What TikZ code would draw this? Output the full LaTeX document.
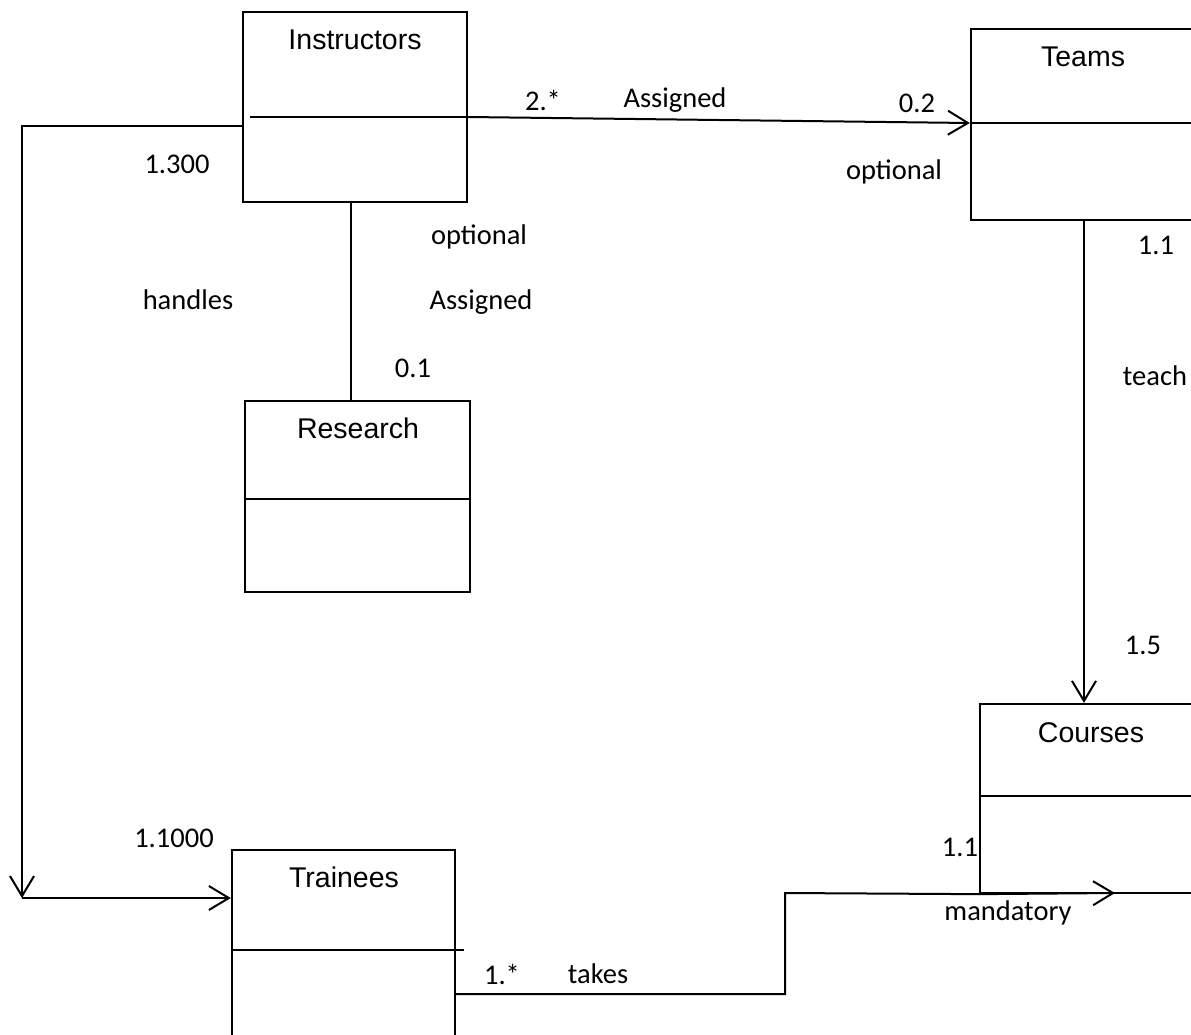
\documentclass[tikz,border=0pt]{standalone}
\usepackage{fontspec}
\setmainfont{Carlito}
\newfontfamily\titlefont{Liberation Sans}
\usetikzlibrary{arrows.meta}
\begin{document}
\begin{tikzpicture}[x=1pt,y=-1pt,
  umlbox/.style={draw, line width=2.3pt, inner sep=0pt, rectangle},
  divider/.style={line width=2pt},
  conn/.style={line width=2pt},
  tip/.style={-{Straight Barb[length=20pt,width=24pt]}},
  title/.style={font=\titlefont\fontsize{28.5}{34}\selectfont, inner sep=0pt},
  lbl/.style={font=\fontsize{28.5}{34}\selectfont, inner sep=0pt}]
\clip (0,0) rectangle (1191,1034);
\fill[white] (0,0) rectangle (1191,1034);

% boxes
\node[umlbox, minimum width=224pt, minimum height=190pt] (ins) at (355,107) {};
\node[title] (insT) at (355,40) {Instructors};
\node[umlbox, minimum width=225pt, minimum height=191pt] (res) at (357.5,496.5) {};
\node[title] (resT) at (358,428) {Research};
\node[umlbox, minimum width=239pt, minimum height=191pt] (tea) at (1090.5,124.5) {};
\node[title] (teaT) at (1083,57) {Teams};
\node[umlbox, minimum width=230pt, minimum height=189pt] (cou) at (1095,798.5) {};
\node[title] (couT) at (1091,733) {Courses};
\node[umlbox, minimum width=223pt, minimum height=200pt] (tra) at (343.5,950) {};
\node[title] (traT) at (344,877) {Trainees};

% helper coordinates
\coordinate (iy) at (250,117);
\coordinate (ty) at (0,123);
\coordinate (ry) at (0,499);
\coordinate (cy) at (0,796);
\coordinate (tdy) at (464,950);
\coordinate (hA) at (22,126);
\coordinate (hB) at (22,898);
\coordinate (tc) at (1084,0);
\coordinate (s1) at (785,994);
\coordinate (s2) at (785,893);
\coordinate (s3) at (1115,893);

% dividers
\draw[divider] (iy) -- (ins.east |- iy);
\draw[divider] (res.west |- ry) -- (res.east |- ry);
\draw[divider] (tea.west |- ty) -- (tea.east |- ty);
\draw[divider] (cou.west |- cy) -- (cou.east |- cy);
\draw[divider] (tra.west |- tdy) -- (tdy);

% connectors
\draw[conn, tip] (ins.east |- iy) -- (tea.west |- ty);
\draw[conn, tip] (ins.west |- hA) -- (hA) -- (hB);
\draw[conn, tip] (hB) -- (tra.west |- hB);
\draw[conn] (ins.south -| 351,0) -- (res.north -| 351,0);
\draw[conn, tip] (tea.south -| tc) -- (cou.north -| tc);
\draw[conn] (tra.east |- s1) -- (s1) -- (s2) -- (cou.south west);
\draw[conn, tip] (cou.south west) -- (s3);

% labels
\node[lbl] (l1) at (543,100) {2.*};
\node[lbl] (l2) at (675,100) {Assigned};
\node[lbl] (l3) at (917,103) {0.2};
\node[lbl] (l4) at (894,172) {optional};
\node[lbl] (l5) at (177,164) {1.300};
\node[lbl] (l6) at (188,300) {handles};
\node[lbl] (l7) at (174,838) {1.1000};
\node[lbl] (l8) at (479,237) {optional};
\node[lbl] (l9) at (481,302) {Assigned};
\node[lbl] (l10) at (413,368) {0.1};
\node[lbl] (l11) at (1156,245) {1.1};
\node[lbl] (l12) at (1155,376) {teach};
\node[lbl] (l13) at (1143,645) {1.5};
\node[lbl] (l14) at (960,847) {1.1};
\node[lbl] (l15) at (1008,913) {mandatory};
\node[lbl] (l16) at (502,974) {1.*};
\node[lbl] (l17) at (598,974) {takes};
\end{tikzpicture}
\end{document}
